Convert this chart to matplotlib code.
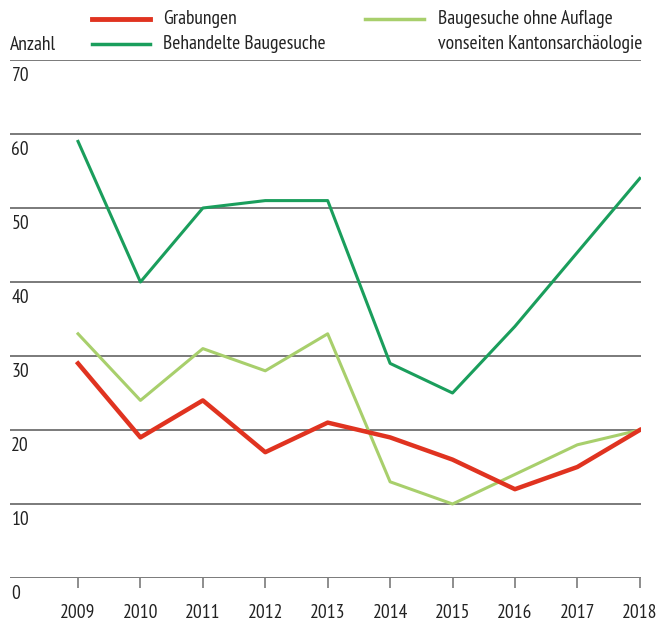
import matplotlib.pyplot as plt
from matplotlib import font_manager

# values
years = [2009, 2010, 2011, 2012, 2013, 2014, 2015, 2016, 2017, 2018]
grabungen = [29, 19, 24, 17, 21, 19, 16, 12, 15, 20]
behandelte = [59, 40, 50, 51, 51, 29, 25, 34, 44, 54]
ohne_auflage = [33, 24, 31, 28, 33, 13, 10, 14, 18, 20]
y_ticks = [0, 10, 20, 30, 40, 50, 60, 70]

RED = "#e03320"
GREEN = "#1a9e5c"
LIGHT = "#a8cf6c"
GRID = "#7a7a7a"
TEXT = "#222222"
FS = 14

# condensed font, close to the original's narrow sans
names = {f.name for f in font_manager.fontManager.ttflist}
for cand in ["PT Sans Narrow", "Open Sans Condensed", "Roboto Condensed", "Liberation Sans Narrow"]:
    if cand in names:
        plt.rcParams["font.family"] = [cand, "DejaVu Sans"]
        break

fig = plt.figure(figsize=(6.59, 6.23), dpi=100)
ax = fig.add_axes([10 / 659, 1 - 578 / 623, 631 / 659, 518 / 623])

ax.set_xlim(2007.91, 2018.02)
ax.set_ylim(0, 70)

for v in y_ticks:
    ax.axhline(v, color=GRID, lw=1.4, zorder=1)
    ax.annotate(str(v), xy=(0, v), xycoords=("axes fraction", "data"),
                xytext=(1, -5), textcoords="offset points",
                ha="left", va="top", fontsize=FS, color=TEXT)

ax.plot(years, behandelte, color=GREEN, lw=2.2, zorder=3)
ax.plot(years, ohne_auflage, color=LIGHT, lw=2.2, zorder=3)
ax.plot(years, grabungen, color=RED, lw=3.2, zorder=4)

for s in ["left", "right", "top", "bottom"]:
    ax.spines[s].set_visible(False)
ax.set_yticks([])
ax.set_xticks(years)
ax.set_xticklabels([str(y) for y in years], fontsize=FS, color=TEXT)
ax.tick_params(axis="x", direction="out", length=7.5, width=1.2, color=GRID, pad=11)

# legend drawn by hand
fig.text(10 / 659, 1 - 45 / 623, "Anzahl", fontsize=FS, color=TEXT, va="center")
fig.add_artist(plt.Line2D([92 / 659, 150 / 659], [1 - 19 / 623] * 2, color=RED, lw=3.5))
fig.text(163 / 659, 1 - 19 / 623, "Grabungen", fontsize=FS, color=TEXT, va="center")
fig.add_artist(plt.Line2D([92 / 659, 150 / 659], [1 - 44 / 623] * 2, color=GREEN, lw=2.5))
fig.text(163 / 659, 1 - 44 / 623, "Behandelte Baugesuche", fontsize=FS, color=TEXT, va="center")
fig.add_artist(plt.Line2D([365 / 659, 424 / 659], [1 - 19 / 623] * 2, color=LIGHT, lw=2.5))
fig.text(438 / 659, 1 - 19 / 623, "Baugesuche ohne Auflage", fontsize=FS, color=TEXT, va="center")
fig.text(438 / 659, 1 - 44 / 623, "vonseiten Kantonsarchäologie", fontsize=FS, color=TEXT, va="center")

fig.savefig("out.png", dpi=100)
